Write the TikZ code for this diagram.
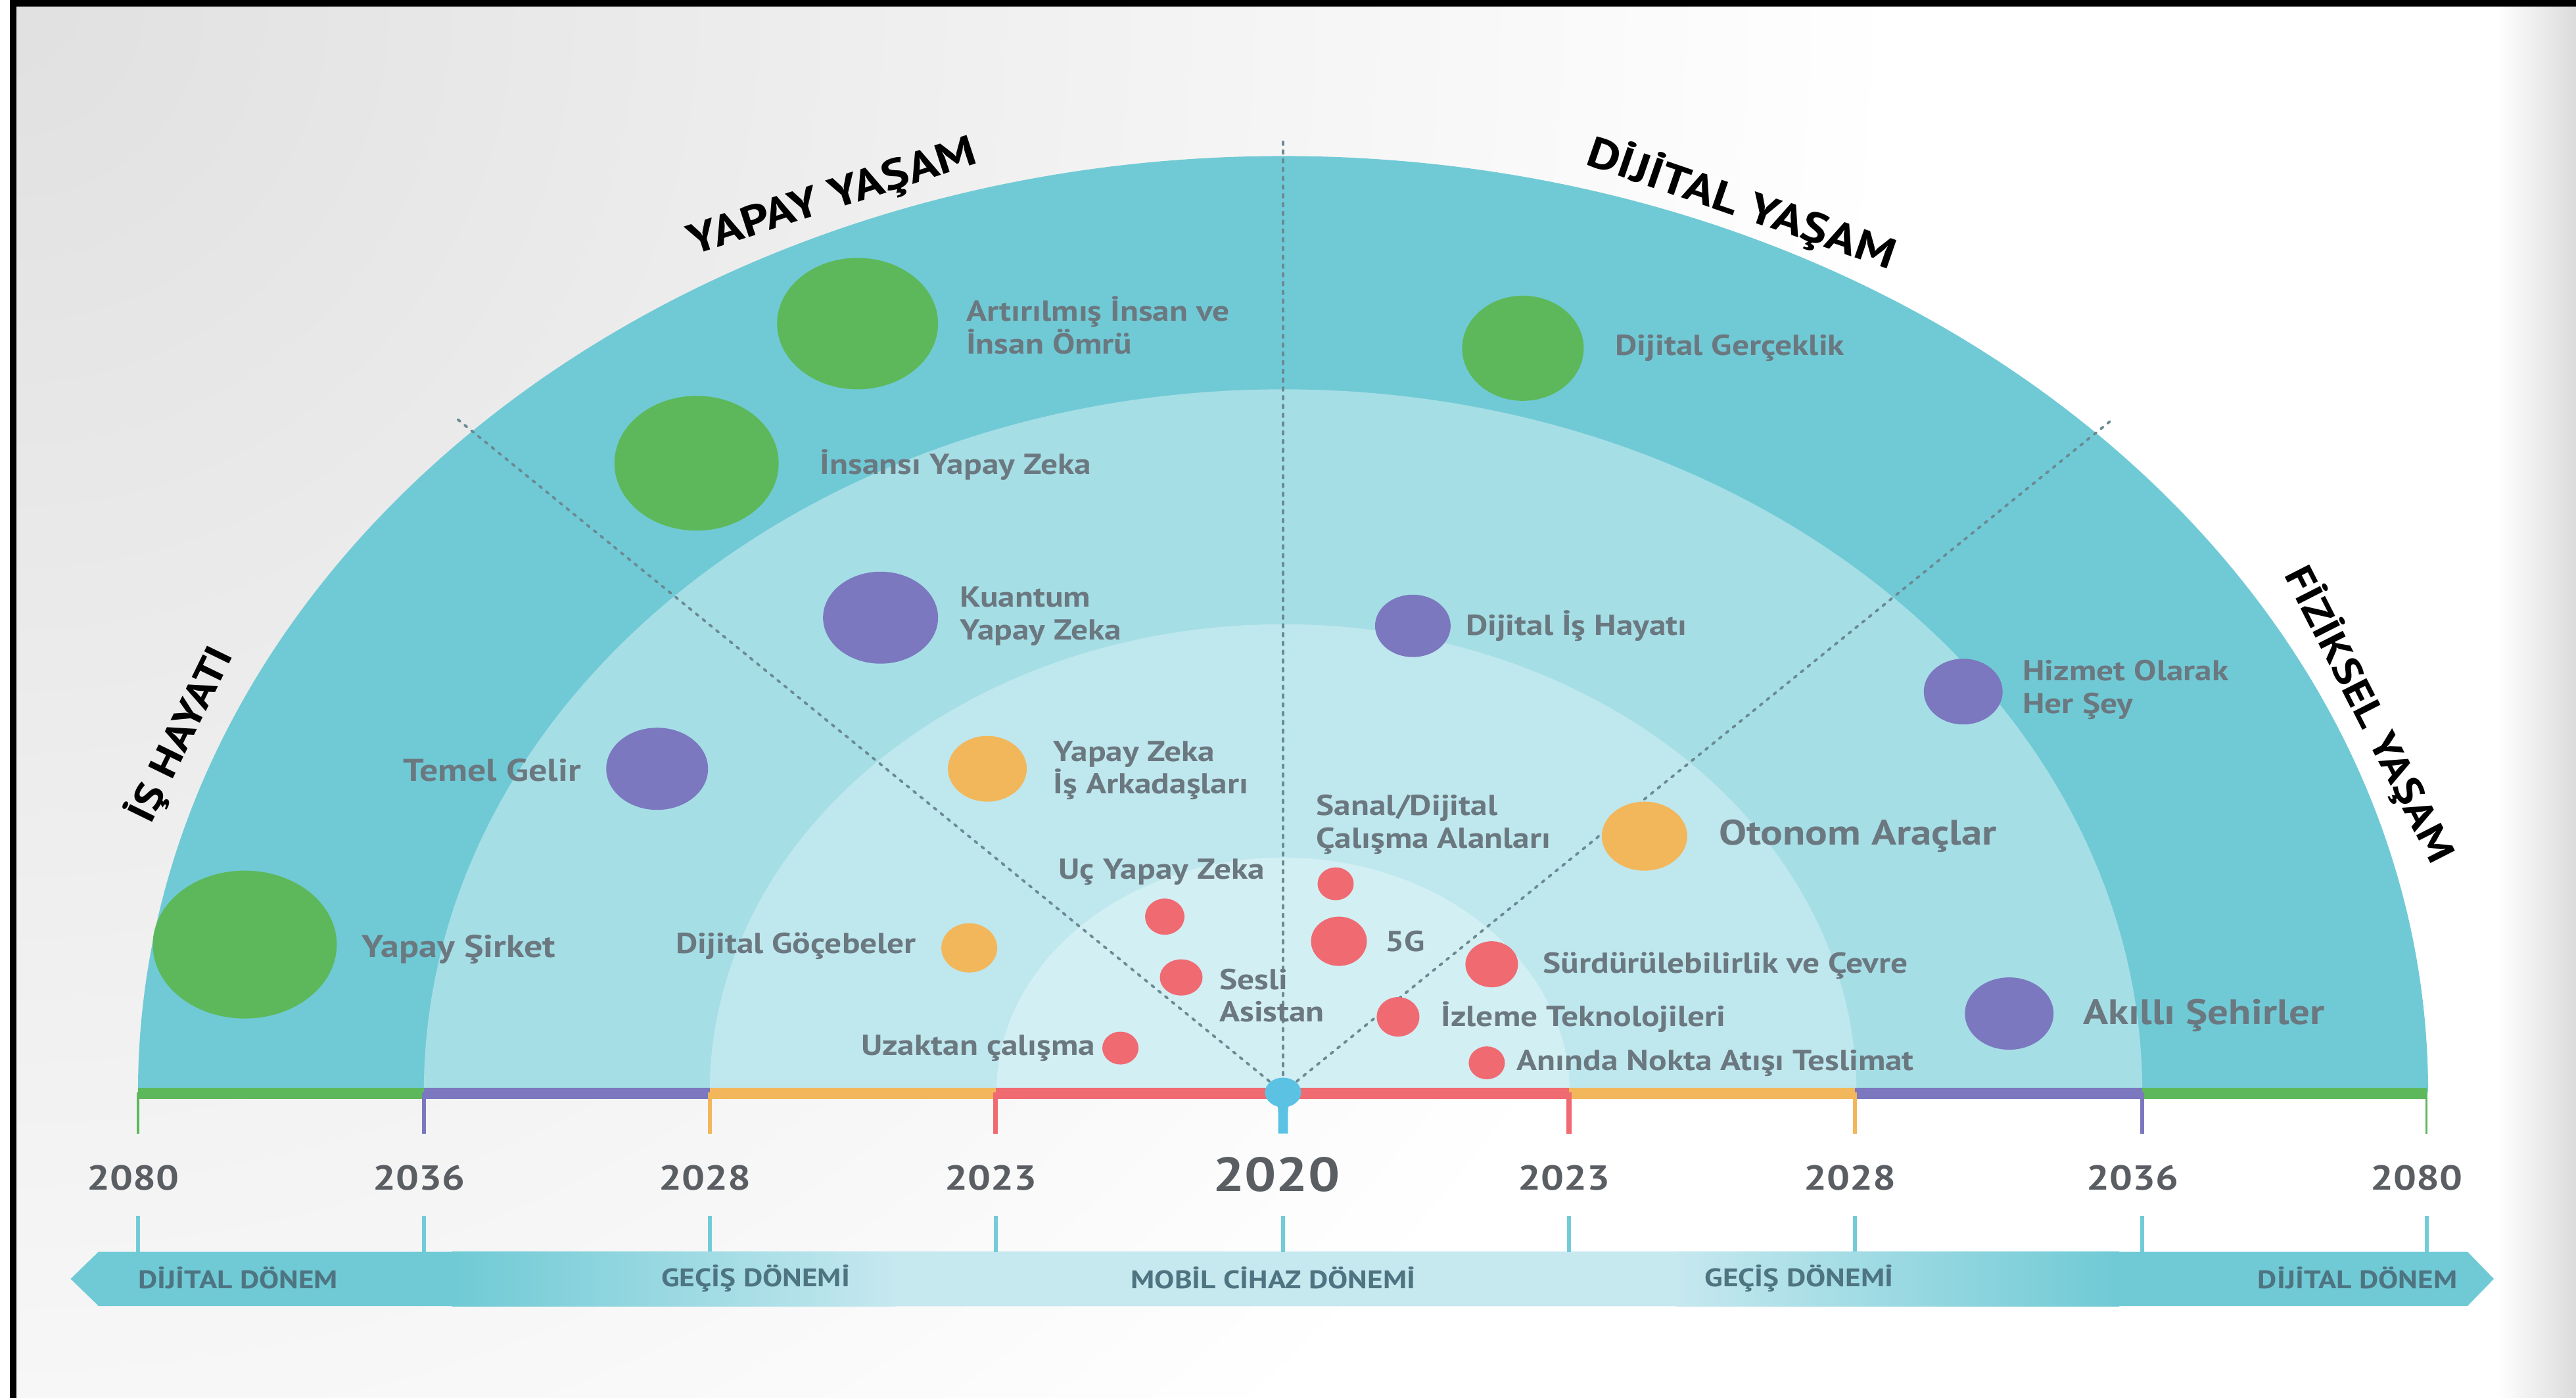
\documentclass[tikz,border=0pt]{standalone}
\usepackage{fontspec}
\setmainfont{PT Sans}[FakeStretch=1.17]
\usepackage{xcolor}
\usepackage{tikz}
\usetikzlibrary{shapes.geometric}

\definecolor{ringA}{HTML}{70CAD5}
\definecolor{ringB}{HTML}{A6DEE6}
\definecolor{ringC}{HTML}{BFE7EE}
\definecolor{ringD}{HTML}{D2EFF3}
\definecolor{cgrn}{HTML}{5DB85B}
\definecolor{cpur}{HTML}{7B78BF}
\definecolor{corg}{HTML}{F2B75B}
\definecolor{cred}{HTML}{F06A72}
\definecolor{cpin}{HTML}{5BC2E4}
\definecolor{labgray}{HTML}{6B7880}
\definecolor{yeargray}{HTML}{5A5E63}
\definecolor{eratext}{HTML}{4E7482}
\definecolor{dotgray}{HTML}{6A8A94}
\definecolor{bandteal}{HTML}{6FCAD5}
\definecolor{bandlight}{HTML}{C6E8EF}
\definecolor{tickteal}{HTML}{72CCD8}

\newcommand{\labfont}{\bfseries\fontsize{12.5}{14.2}\selectfont}
\newcommand{\biglabfont}{\bfseries\fontsize{13.6}{16}\selectfont}
\newcommand{\hugelabfont}{\bfseries\fontsize{15.3}{17}\selectfont}
\newcommand{\headfont}{\bfseries\fontsize{18.5}{20}\selectfont}
\newcommand{\sideheadfont}{\bfseries\fontsize{17}{19}\selectfont}
\newcommand{\yearfont}{\bfseries\fontsize{15}{17}\selectfont}
\newcommand{\bigyearfont}{\bfseries\fontsize{20.7}{22}\selectfont}
\newcommand{\erafont}{\bfseries\fontsize{11}{12}\selectfont}

\begin{document}
\begin{tikzpicture}[
    x=0.25mm, y=0.25mm,
    bub/.style={ellipse,fill=#1,inner sep=0pt},
    lab/.style={font=\labfont,text=labgray,inner sep=0pt,align=left},
    biglab/.style={lab,font=\biglabfont},
    hugelab/.style={lab,font=\hugelabfont},
    head/.style={font=\headfont,text=black,inner sep=0pt},
    sidehead/.style={head,font=\sideheadfont},
    year/.style={font=\yearfont,text=yeargray,inner sep=0pt},
    era/.style={font=\erafont,text=eratext,inner sep=0pt},
    dotline/.style={draw=dotgray,line width=1.1pt,dash pattern=on 1.2pt off 2.6pt,line cap=round}
  ]
    \useasboundingbox (-781,-186) rectangle (787,665);

    % background and frame
    \begin{scope}
      \clip (-773,-186) rectangle (787,661);
      \shade[inner color=black!12,outer color=white] (-773,661) circle[radius=1150];
    \end{scope}
    \shade[left color=white,right color=black!14] (739,-186) rectangle (787,661);
    \fill[black] (-775,661) rectangle (787,665);
    \fill[black] (-775,-186) rectangle (-771,665);

    % rings
    \fill[ringA] (-697,0) arc[start angle=180,end angle=0,x radius=697,y radius=570] -- cycle;
    \fill[ringB] (-523,0) arc[start angle=180,end angle=0,x radius=523,y radius=428] -- cycle;
    \fill[ringC] (-349,0) arc[start angle=180,end angle=0,x radius=349,y radius=285] -- cycle;
    \fill[ringD] (-174.5,0) arc[start angle=180,end angle=0,x radius=174.5,y radius=143] -- cycle;

    % dotted guides
    \coordinate (c) at (0,0);
    \coordinate (gl) at (-504,411);
    \coordinate (gt) at (0,580);
    \coordinate (gr) at (504,409);
    \draw[dotline] (c) -- (gl);
    \draw[dotline] (c) -- (gt);
    \draw[dotline] (c) -- (gr);

    % headings
    \node[sidehead,rotate=64]  (ishayati) at (-671,218) {İŞ HAYATI};
    \node[head,rotate=18]      (yapay)    at (-274,544) {YAPAY YAŞAM};
    \node[head,rotate=-19]     (dijital)  at (279,541)  {DİJİTAL YAŞAM};
    \node[sidehead,rotate=-63] (fiziksel) at (661,230)  {FİZİKSEL YAŞAM};

    % bubbles
    \node[bub=cgrn,minimum width=24.5mm,minimum height=20mm]  (artir)  at (-259,468) {};
    \node[bub=cgrn,minimum width=25mm,minimum height=20.5mm]  (insansi) at (-357,383) {};
    \node[bub=cgrn,minimum width=18.5mm,minimum height=16mm]  (gercek) at (146,453) {};
    \node[bub=cgrn,minimum width=28mm,minimum height=22.5mm]  (sirket) at (-632,90) {};
    \node[bub=cpur,minimum width=17.5mm,minimum height=14mm]  (kuantum) at (-245,289) {};
    \node[bub=cpur,minimum width=11.5mm,minimum height=9.5mm] (ishay)  at (79,284) {};
    \node[bub=cpur,minimum width=15.5mm,minimum height=12.5mm] (temel) at (-381,197) {};
    \node[bub=cpur,minimum width=12mm,minimum height=10mm]    (hizmet) at (414,244) {};
    \node[bub=cpur,minimum width=13.5mm,minimum height=11mm]  (akilli) at (442,48) {};
    \node[bub=corg,minimum width=12mm,minimum height=10mm]    (arkadas) at (-180,197) {};
    \node[bub=corg,minimum width=13mm,minimum height=10.5mm]  (otonom) at (220,156) {};
    \node[bub=corg,minimum width=8.5mm,minimum height=7.5mm]  (gocebe) at (-191,88) {};
    \node[bub=cred,minimum width=6mm,minimum height=5.5mm]    (uc)     at (-72,107) {};
    \node[bub=cred,minimum width=5.5mm,minimum height=5mm]    (sanal)  at (32,127) {};
    \node[bub=cred,minimum width=8.5mm,minimum height=7.5mm]  (besg)   at (34,92) {};
    \node[bub=cred,minimum width=6.5mm,minimum height=5.5mm]  (sesli)  at (-62,70) {};
    \node[bub=cred,minimum width=8mm,minimum height=7mm]      (surdur) at (127,78) {};
    \node[bub=cred,minimum width=6.5mm,minimum height=6mm]    (izleme) at (70,46) {};
    \node[bub=cred,minimum width=5.5mm,minimum height=5mm]    (aninda) at (124,18) {};
    \node[bub=cred,minimum width=5.5mm,minimum height=5mm]    (uzak)   at (-99,27) {};

    % labels
    \node[lab,anchor=west] (l-artir)   at (-193,467) {Artırılmış İnsan ve\\İnsan Ömrü};
    \node[lab,anchor=west] (l-insansi) at (-282,382) {İnsansı Yapay Zeka};
    \node[lab,anchor=west] (l-gercek)  at (202,453)  {Dijital Gerçeklik};
    \node[biglab,anchor=west] (l-sirket) at (-561,87) {Yapay Şirket};
    \node[lab,anchor=west] (l-kuantum) at (-197,290) {Kuantum\\Yapay Zeka};
    \node[lab,anchor=west] (l-ishay)   at (111,284)  {Dijital İş Hayatı};
    \node[biglab,anchor=east] (l-temel) at (-427,196) {Temel Gelir};
    \node[lab,anchor=west] (l-hizmet)  at (450,245)  {Hizmet Olarak\\Her Şey};
    \node[hugelab,anchor=west] (l-akilli) at (487,47) {Akıllı Şehirler};
    \node[lab,anchor=west] (l-arkadas) at (-140,196) {Yapay Zeka\\İş Arkadaşları};
    \node[hugelab,anchor=west] (l-otonom) at (265,156) {Otonom Araçlar};
    \node[lab,anchor=east] (l-gocebe)  at (-223,89)  {Dijital Göçebeler};
    \node[lab,anchor=east] (l-uc)      at (-11,134)  {Uç Yapay Zeka};
    \node[lab,anchor=west] (l-sanal)   at (20,163)   {Sanal/Dijital\\Çalışma Alanları};
    \node[lab,anchor=west] (l-besg)    at (62,92)    {5G};
    \node[lab,anchor=west] (l-sesli)   at (-39,59)   {Sesli\\Asistan};
    \node[lab,anchor=west] (l-surdur)  at (158,77)   {Sürdürülebilirlik ve Çevre};
    \node[lab,anchor=west] (l-izleme)  at (96,46)    {İzleme Teknolojileri};
    \node[lab,anchor=west] (l-aninda)  at (142,18)   {Anında Nokta Atışı Teslimat};
    \node[lab,anchor=east] (l-uzak)    at (-114,27)  {Uzaktan çalışma};

    % timeline bar and ticks
    \foreach \a/\b/\c in {-697/-523/cgrn,-523/-349/cpur,-349/-175/corg,-175/174/cred,
                          174/348/corg,348/523/cpur,523/696/cgrn}
      \fill[\c] (\a,-4) rectangle (\b,3);
    \foreach \x/\c/\w in {-697/cgrn/1pt,-523/cpur/1.6pt,-349/corg/1.8pt,-175/cred/2.2pt,
                          174/cred/2.2pt,348/corg/1.8pt,523/cpur/1.6pt,696/cgrn/1pt}
      \draw[\c,line width=\w] (\x,0) -- (\x,-25);
    \fill[cpin] (0,0) ellipse[x radius=11,y radius=9];
    \fill[cpin] (-8,-4) .. controls (-3,-8) .. (-3,-12) -- (-3,-25) -- (3,-25) -- (3,-12)
      .. controls (3,-8) .. (8,-4) -- cycle;

    % years
    \foreach \x/\t [count=\i] in {-700/2080,-526/2036,-352/2028,-178/2023,
                                  171/2023,345/2028,517/2036,690/2080}
      \node[year] (yr\i) at (\x,-52) {\t};
    \node[year,font=\bigyearfont] (yr0) at (-4,-50) {2020};

    % era band
    \foreach \x in {-697,-523,-349,-175,0,174,348,523,696}
      \draw[tickteal,line width=1.7pt] (\x,-75) -- (\x,-97);
    \fill[bandteal] (-738,-113.5) -- (-721,-97) -- (721,-97) -- (737,-113.5)
      -- (721,-130) -- (-721,-130) -- cycle;
    \shade[left color=bandteal,right color=bandlight] (-506,-97) rectangle (-236,-130);
    \fill[bandlight] (-236,-97) rectangle (239,-130);
    \shade[left color=bandlight,right color=bandteal] (239,-97) rectangle (509,-130);

    \node[era] (era1) at (-636,-113) {DİJİTAL DÖNEM};
    \node[era] (era2) at (-321,-113) {GEÇİŞ DÖNEMİ};
    \node[era] (era3) at (-6,-113)   {MOBİL CİHAZ DÖNEMİ};
    \node[era] (era4) at (314,-113)  {GEÇİŞ DÖNEMİ};
    \node[era] (era5) at (654,-113)  {DİJİTAL DÖNEM};
\end{tikzpicture}
\end{document}
